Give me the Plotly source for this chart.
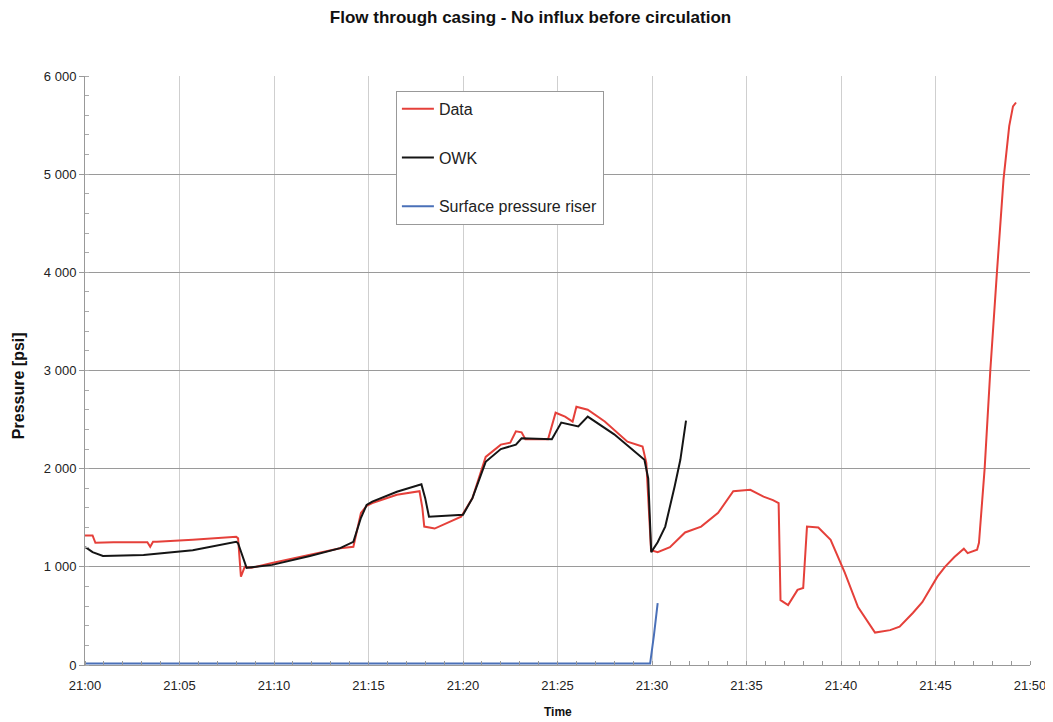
import plotly.graph_objects as go

# Time in minutes after 21:00, pressure in psi
data_t = [0, 0.4, 0.55, 1.5, 3.3, 3.45, 3.6, 3.8, 5.7, 8.0, 8.1, 8.25, 8.45, 8.8, 9.9, 11.9, 13.5,
          14.2, 14.6, 14.9, 15.2, 16.5, 17.7, 17.85, 17.95, 18.5, 19.9, 20.5, 21.2, 22.0, 22.5, 22.8,
          23.1, 23.3, 24.5, 24.9, 25.4, 25.8, 26.0, 26.6, 27.5, 28.7, 29.5, 29.7, 29.95, 30.3, 30.95,
          31.75, 32.6, 33.5, 34.3, 35.2, 35.9, 36.4, 36.7, 36.8, 37.2, 37.7, 38.0, 38.2, 38.8, 39.45,
          40.2, 40.9, 41.8, 42.6, 43.1, 43.8, 44.3, 45.1, 45.5, 46.0, 46.5, 46.7, 47.2, 47.3, 47.6,
          47.75, 47.9, 48.25, 48.6, 48.9, 49.1, 49.26]
data_p = [1320, 1320, 1245, 1250, 1250, 1205, 1255, 1255, 1275, 1306, 1290, 900, 1000, 990, 1040, 1120, 1190,
          1205, 1550, 1620, 1650, 1735, 1770, 1600, 1410, 1390, 1510, 1700, 2120, 2245, 2265, 2380,
          2370, 2300, 2300, 2570, 2530, 2480, 2630, 2600, 2480, 2275, 2225, 2060, 1170, 1150, 1200,
          1350, 1410, 1550, 1770, 1785, 1715, 1680, 1650, 660, 610, 765, 785, 1410, 1400, 1275,
          940, 590, 330, 355, 390, 530, 640, 900, 1000, 1100, 1185, 1140, 1175, 1245, 2000,
          2500, 3000, 4000, 4950, 5490, 5690, 5730]

owk_t = [0, 0.1, 0.4, 0.95, 3.1, 5.7, 8.0, 8.1, 8.55, 9.9, 11.9, 13.5, 14.2, 14.6, 14.9, 15.2, 16.5,
         17.8, 18.0, 18.2, 20.0, 20.5, 21.2, 22.0, 22.8, 23.1, 24.7, 25.2, 26.1, 26.6, 28.0, 29.6,
         29.8, 29.96, 30.3, 30.7, 31.2, 31.5, 31.8]
owk_p = [1200, 1190, 1150, 1110, 1120, 1170, 1255, 1240, 990, 1020, 1110, 1190, 1255, 1500, 1630, 1665, 1765,
         1840, 1700, 1510, 1530, 1700, 2070, 2200, 2245, 2310, 2300, 2470, 2430, 2530, 2350, 2090,
         1900, 1150, 1250, 1410, 1820, 2090, 2490]

riser_t = [0, 29.9, 30.1, 30.3]
riser_p = [15, 15, 300, 630]

x_tickvals = [0, 5, 10, 15, 20, 25, 30, 35, 40, 45, 50]
x_ticktext = ["21:00", "21:05", "21:10", "21:15", "21:20", "21:25", "21:30", "21:35", "21:40", "21:45", "21:50"]
y_tickvals = [0, 1000, 2000, 3000, 4000, 5000, 6000]
y_ticktext = ["0", "1 000", "2 000", "3 000", "4 000", "5 000", "6 000"]

FONT = "Liberation Sans, Arial, sans-serif"

fig = go.Figure()
fig.add_trace(go.Scatter(x=data_t, y=data_p, mode="lines", name="Data", legendgroup="a",
                         line=dict(color="#e5403a", width=2)))
fig.add_trace(go.Scatter(x=owk_t, y=owk_p, mode="lines", name="OWK", legendgroup="b",
                         line=dict(color="#151515", width=2)))
fig.add_trace(go.Scatter(x=riser_t, y=riser_p, mode="lines", name="Surface pressure riser", legendgroup="c",
                         line=dict(color="#4a70b8", width=2)))

# page body has an 8px margin, so figure is sized/offset accordingly
fig.update_layout(
    width=1045, height=714,
    paper_bgcolor="white", plot_bgcolor="white",
    margin=dict(l=77, r=23, t=68, b=57, autoexpand=False),
    font=dict(family=FONT, size=13, color="#222"),
    title=dict(text="<b>Flow through casing - No influx before circulation</b>",
               x=0.5, xanchor="center", y=0.995, yanchor="top",
               font=dict(family=FONT, size=17, color="#111")),
    showlegend=True,
    legend=dict(x=0.329, y=0.975, xanchor="left", yanchor="top",
                bgcolor="white", bordercolor="#999", borderwidth=1,
                font=dict(family=FONT, size=16, color="#222"),
                tracegroupgap=25, itemwidth=32),
    annotations=[
        dict(text="<b>Time</b>", xref="paper", yref="paper", x=0.5, y=-0.08,
             xanchor="center", yanchor="middle", showarrow=False,
             font=dict(family=FONT, size=12, color="#111")),
        dict(text="<b>Pressure [psi]</b>", xref="paper", yref="paper", x=-0.071, y=0.475,
             xanchor="center", yanchor="middle", showarrow=False, textangle=-90,
             font=dict(family=FONT, size=16, color="#111")),
    ],
)
fig.update_xaxes(
    range=[0, 50], tickvals=x_tickvals, ticktext=x_ticktext, automargin=False,
    showgrid=True, gridcolor="#cfcfcf", gridwidth=1,
    showline=True, linecolor="#999", linewidth=1,
    ticks="outside", ticklen=8, tickcolor="#fff",
    minor=dict(ticks="inside", dtick=1, ticklen=4, tickcolor="#999", showgrid=False),
    zeroline=False,
    tickfont=dict(family=FONT, size=13, color="#222"),
)
fig.update_yaxes(
    range=[0, 6000], tickvals=y_tickvals, ticktext=y_ticktext, automargin=False,
    showgrid=True, gridcolor="#9a9a9a", gridwidth=1,
    showline=True, linecolor="#999", linewidth=1,
    ticks="outside", ticklen=5, tickcolor="#999",
    minor=dict(ticks="inside", dtick=200, ticklen=4, tickcolor="#aaa", showgrid=False),
    zeroline=False,
    tickfont=dict(family=FONT, size=13, color="#222"),
)

fig.write_html("out.html")
